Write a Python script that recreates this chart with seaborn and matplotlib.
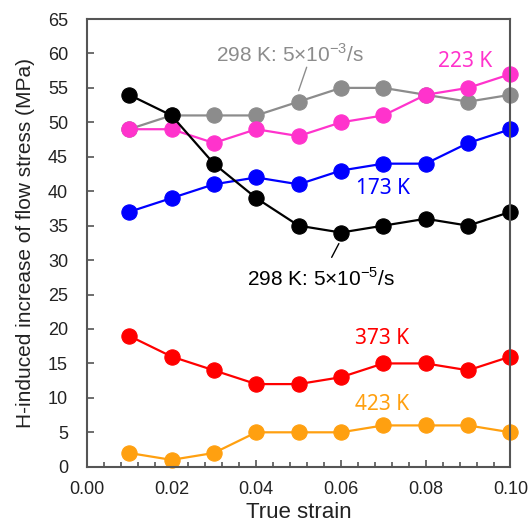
import matplotlib
matplotlib.use("Agg")
import matplotlib.pyplot as plt
import seaborn as sns
import pandas as pd
from matplotlib.ticker import MultipleLocator

strain = [0.01, 0.02, 0.03, 0.04, 0.05, 0.06, 0.07, 0.08, 0.09, 0.10]
s298_fast = [49, 51, 51, 51, 53, 55, 55, 54, 53, 54]
s223 = [49, 49, 47, 49, 48, 50, 51, 54, 55, 57]
s173 = [37, 39, 41, 42, 41, 43, 44, 44, 47, 49]
s373 = [19, 16, 14, 12, 12, 13, 15, 15, 14, 16]
s423 = [2, 1, 2, 5, 5, 5, 6, 6, 6, 5]
s298_slow = [54, 51, 44, 39, 35, 34, 35, 36, 35, 37]

series = [
    ("298 K: 5e-3", s298_fast, "#8c8c8c"),
    ("223 K", s223, "#ff33cc"),
    ("173 K", s173, "#0000ff"),
    ("373 K", s373, "#ff0000"),
    ("423 K", s423, "#ffa010"),
    ("298 K: 5e-5", s298_slow, "#000000"),
]

sns.set_style("white")
plt.rcParams['font.family'] = ['Liberation Sans', 'DejaVu Sans']
plt.rcParams['mathtext.fontset'] = 'custom'
plt.rcParams['mathtext.rm'] = 'Liberation Sans'

fig = plt.figure(figsize=(5.29, 5.28), dpi=100)
ax = fig.add_axes([0.164, 0.116, 0.801, 0.848])

for name, vals, col in series:
    df = pd.DataFrame({"strain": strain, "val": vals})
    sns.lineplot(data=df, x="strain", y="val", ax=ax, color=col, lw=1.6,
                 marker="o", markersize=11, markeredgecolor=col, markeredgewidth=0.8)

ax.set_xlim(0, 0.10)
ax.set_ylim(0, 65)
ax.xaxis.set_major_locator(MultipleLocator(0.02))
ax.xaxis.set_minor_locator(MultipleLocator(0.004))
ax.yaxis.set_major_locator(MultipleLocator(5))
ax.xaxis.set_major_formatter(matplotlib.ticker.FormatStrFormatter('%.2f'))
ax.tick_params(axis='both', which='major', direction='in', length=5, width=1.2,
               labelsize=13, color='#555555', labelcolor='#222222')
ax.tick_params(axis='x', which='minor', direction='in', length=3.5, width=1.2, color='#555555')
ax.tick_params(axis='x', which='both', top=False, bottom=True)
ax.tick_params(axis='x', which='major', pad=10)
ax.tick_params(axis='y', which='both', right=False, left=True)
ax.tick_params(axis='y', which='major', pad=13.5)
for sp in ax.spines.values():
    sp.set_color('#555555')
    sp.set_linewidth(1.5)

ax.set_xlabel("True strain", fontsize=16, color='#222222', labelpad=3)
ax.set_ylabel("H-induced increase of flow stress (MPa)", fontsize=15, color='#222222', labelpad=9)

ax.text(0.048, 59.8, r"298 K: 5$\times$10$^{-3}$/s", color='#8c8c8c', fontsize=15,
        ha='center', va='center')
ax.plot([0.0519, 0.0500], [58.0, 54.6], color='#8c8c8c', lw=1)
ax.text(0.0554, 27.4, r"298 K: 5$\times$10$^{-5}$/s", color='#000000', fontsize=15,
        ha='center', va='center')
ax.plot([0.0595, 0.0578], [32.4, 30.4], color='#000000', lw=1)
ax.text(0.0892, 58.8, "223 K", color='#ff33cc', fontsize=15, ha='center', va='center',
        family=['Noto Sans', 'DejaVu Sans'])
ax.text(0.0700, 40.4, "173 K", color='#0000ff', fontsize=15, ha='center', va='center',
        family=['Noto Sans', 'DejaVu Sans'])
ax.text(0.0696, 18.6, "373 K", color='#ff0000', fontsize=15, ha='center', va='center',
        family=['Noto Sans', 'DejaVu Sans'])
ax.text(0.0696, 9.0, "423 K", color='#ffa010', fontsize=15, ha='center', va='center',
        family=['Noto Sans', 'DejaVu Sans'])

for l in ax.lines:
    l.set_clip_on(False)

fig.savefig("out.png", dpi=100)
